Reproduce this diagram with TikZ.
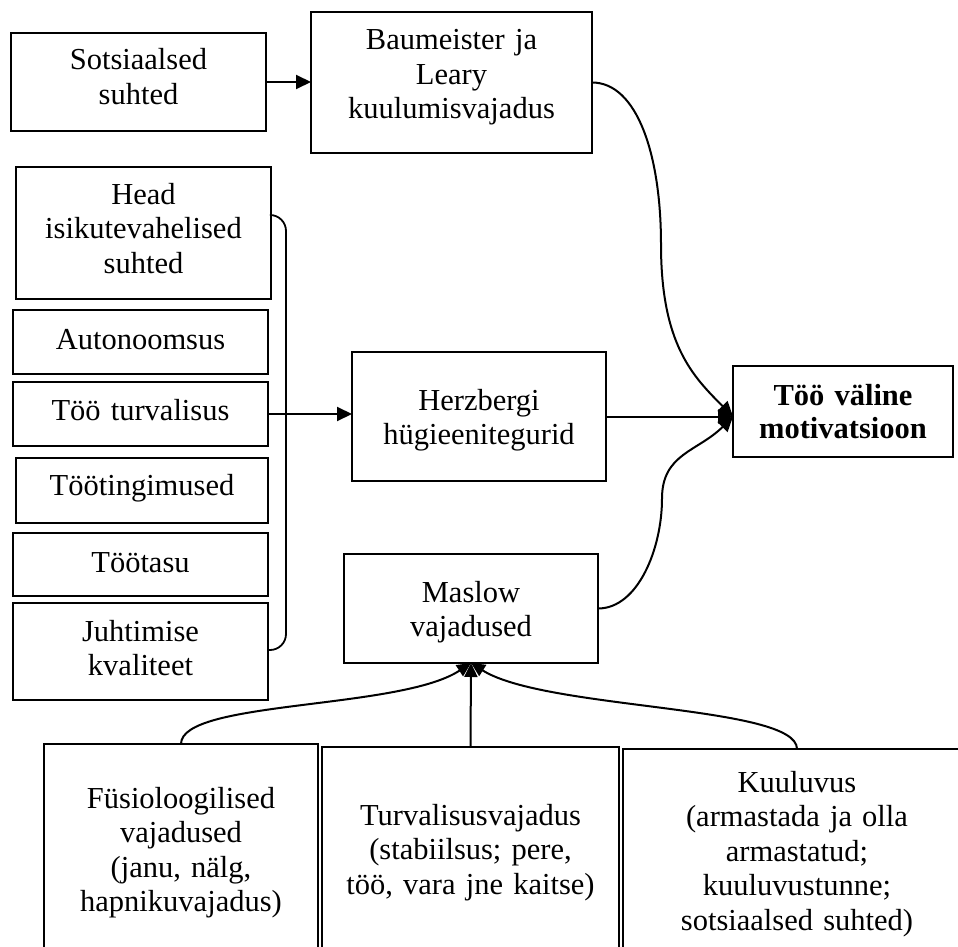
\documentclass[tikz,border=0pt]{standalone}
\usepackage{fontspec}
\setmainfont{Liberation Serif}
\usetikzlibrary{arrows.meta,calc}
\begin{document}
\begin{tikzpicture}[x=1pt,y=-1pt,
  box/.style={draw, line width=1.8pt, inner sep=0pt, outer sep=0pt, anchor=north,
    align=center, font=\fontsize{30.5}{34.5}\selectfont},
  geom/.style n args={3}{text width=#1pt, text height=#2pt, text depth=#3pt},
  conn/.style={line width=2pt},
  arr/.style={conn, -{Triangle[length=15pt,width=14pt]}},
  arrm/.style={conn, -{Triangle[length=14pt,width=13pt]}},
]
\useasboundingbox (0,0) rectangle (958,947);
\clip (0,0) rectangle (958,947);

% top row
\node[box, geom={255}{37}{61}] (soc) at (138.5,33) {Sotsiaalsed\\suhted};
\node[box, geom={281}{38}{103}] (baum) at (451.5,12) {Baumeister ja\\Leary\\kuulumisvajadus};

% left column of hygiene factors
\node[box, geom={255}{37}{95}] (head) at (143.5,167) {Head\\isikutevahelised\\suhted};
\node[box, geom={255}{39}{25}] (auto) at (140.5,310) {Autonoomsus};
\node[box, geom={255}{38}{26}] (turv) at (140.5,382) {Töö turvalisus};
\node[box, geom={252}{37}{28}] (ting) at (142,458) {Töötingimused};
\node[box, geom={255}{39}{24}] (tasu) at (140.5,533) {Töötasu};
\node[box, geom={255}{38}{59}] (juht) at (140.5,603) {Juhtimise\\kvaliteet};

% middle and result
\node[box, geom={254}{58}{71}] (herz) at (479,352) {Herzbergi\\hügieenitegurid};
\node[box, geom={220}{39}{52}, font=\fontsize{30.5}{33}\selectfont\bfseries] (toov) at (843,366) {Töö väline\\motivatsioon};
\node[box, geom={254}{48}{61}] (masl) at (471,554) {Maslow\\vajadused};

% Maslow levels
\node[box, geom={274}{64}{180}] (fys) at (181,744) {Füsioloogilised\\vajadused\\(janu, nälg,\\hapnikuvajadus)};
\node[box, geom={297}{78}{170}] (tur) at (470.5,747) {Turvalisusvajadus\\(stabiilsus; pere,\\töö, vara jne kaitse)};
\node[box, geom={348}{43}{200}] (kuu) at (797,749) {Kuuluvus\\(armastada ja olla\\armastatud;\\kuuluvustunne;\\sotsiaalsed suhted)};

% bracket grouping the left column
\coordinate (bt) at ($(head.north east)+(0,48)$);
\coordinate (bb) at ($(juht.north east)+(0,47)$);
\draw[conn, line width=1.8pt, rounded corners=16pt] (bt) -- ++(15,0) |- (bb);

% connectors
\coordinate (tin) at (herz.east -| toov.west);
\coordinate (bw) at ($(baum.east)+(69,162)$);
\coordinate (mw) at ($(masl.east)+(64,-110)$);
\draw[arr] (soc.east) -- (soc.east -| baum.west);
\draw[arr] (turv.east) -- (turv.east -| herz.west);
\draw[arr] (herz.east) -- (tin);
\draw[arr] (baum.east) .. controls +(45,0) and +(0,-90) .. (bw)
                       .. controls +(0,100) and +(-40,-40) .. (tin);
\draw[arr] (masl.east) .. controls +(40,0) and +(0,50) .. (mw)
                       .. controls +(0,-45) and +(-35,35) .. (tin);

\coordinate (mb) at (masl.south);
\draw[arrm] (tur.north) -- (mb);
\draw[arrm] (fys.north) .. controls +(0,-44) and +(-71,47) .. (mb);
\draw[arrm] (kuu.north) .. controls +(0,-44) and +(74,47) .. (mb);
\end{tikzpicture}
\end{document}
